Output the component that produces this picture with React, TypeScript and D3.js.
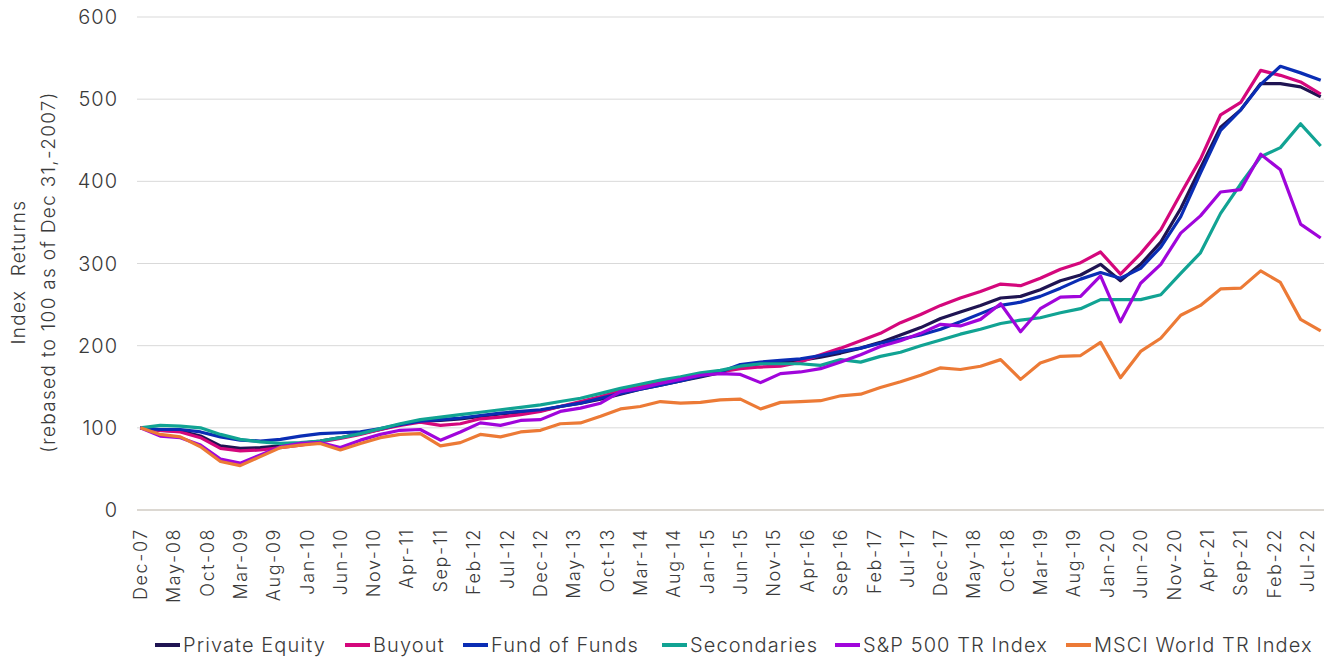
import React, { useEffect, useRef } from "react";
import * as d3 from "d3";

// quarterly observations, Dec-07 .. Sep-22
const quarters = d3.timeMonth.range(new Date(2007, 11, 1), new Date(2022, 8, 2), 3);

const privateEquity = [100, 97, 96, 90, 78, 75, 76, 78, 81, 84, 88, 93, 98, 104, 108, 109, 111, 114, 117, 119, 121, 126, 130, 135, 141, 147, 152, 157, 162, 167, 175, 178, 180, 182, 186, 191, 197, 204, 213, 222, 233, 241, 249, 258, 260, 268, 279, 286, 299, 279, 299, 326, 367, 416, 466, 487, 519, 519, 515, 503];
const buyout = [100, 97, 95, 88, 75, 72, 73, 76, 79, 83, 87, 92, 98, 103, 107, 103, 105, 111, 113, 116, 120, 126, 132, 138, 145, 150, 155, 159, 164, 168, 172, 174, 175, 180, 189, 197, 206, 215, 228, 238, 249, 258, 266, 275, 273, 282, 293, 301, 314, 287, 312, 341, 385, 427, 481, 496, 535, 529, 521, 506];
const fundOfFunds = [100, 98, 98, 95, 89, 85, 84, 86, 90, 93, 94, 95, 99, 104, 108, 110, 112, 115, 118, 120, 122, 126, 130, 136, 142, 147, 152, 157, 163, 168, 177, 180, 182, 184, 188, 193, 197, 203, 208, 213, 220, 229, 239, 249, 253, 260, 270, 281, 289, 282, 294, 320, 357, 410, 462, 487, 518, 540, 532, 523];
const secondaries = [100, 103, 102, 100, 92, 86, 83, 81, 82, 84, 88, 93, 99, 105, 110, 113, 116, 119, 122, 125, 128, 132, 136, 142, 148, 153, 158, 162, 167, 170, 175, 178, 178, 178, 176, 183, 180, 187, 192, 200, 207, 214, 220, 227, 231, 234, 240, 245, 256, 256, 256, 262, 288, 313, 361, 397, 430, 441, 470, 443];
const sp500 = [100, 90, 88, 79, 62, 57, 67, 77, 81, 82, 76, 85, 92, 97, 98, 85, 95, 106, 103, 109, 110, 120, 124, 130, 144, 148, 154, 159, 164, 166, 165, 155, 166, 168, 172, 180, 189, 199, 206, 215, 226, 224, 232, 251, 217, 245, 259, 260, 285, 229, 276, 299, 337, 358, 387, 390, 433, 414, 348, 331];
const msciWorld = [100, 92, 89, 77, 59, 54, 65, 76, 79, 81, 73, 81, 88, 92, 93, 78, 82, 92, 89, 95, 97, 105, 106, 114, 123, 126, 132, 130, 131, 134, 135, 123, 131, 132, 133, 139, 141, 149, 156, 164, 173, 171, 175, 183, 159, 179, 187, 188, 204, 161, 193, 209, 237, 249, 269, 270, 291, 277, 232, 218];

const seriesNames = ["Private Equity", "Buyout", "Fund of Funds", "Secondaries", "S&P 500 TR Index", "MSCI World TR Index"];
const seriesValues = [privateEquity, buyout, fundOfFunds, secondaries, sp500, msciWorld];
const seriesColors = ["#1f1452", "#d4077c", "#0a2db4", "#11a393", "#a005db", "#ec7a36"];

const yTicks = [0, 100, 200, 300, 400, 500, 600];
// x labels every 5 months
const xTickDates = d3.timeMonth.range(new Date(2007, 11, 1), new Date(2022, 6, 2), 5);

const legendX = [155, 345, 463, 662, 835, 1066];

const FONT = "Inter, 'Open Sans', sans-serif";

export default function App() {
  const ref = useRef<SVGSVGElement>(null);

  useEffect(() => {
    const svg = d3.select(ref.current);
    svg.selectAll("*").remove();

    const x = d3.scaleTime()
      .domain([new Date(2007, 10, 16), new Date(2022, 8, 16)])
      .range([137, 1324]);
    const y = d3.scaleLinear().domain([0, 600]).range([510, 17]);

    // gridlines
    svg.append("g")
      .selectAll("line")
      .data(yTicks.filter(d => d > 0))
      .enter()
      .append("line")
      .attr("x1", 137)
      .attr("x2", 1324)
      .attr("y1", d => y(d))
      .attr("y2", d => y(d))
      .attr("stroke", "#d9d9d9")
      .attr("stroke-width", 1);

    svg.append("line")
      .attr("x1", 137)
      .attr("x2", 1324)
      .attr("y1", y(0))
      .attr("y2", y(0))
      .attr("stroke", "#dcd8d2")
      .attr("stroke-width", 2);

    // y labels
    svg.append("g")
      .selectAll("text")
      .data(yTicks)
      .enter()
      .append("text")
      .attr("x", 118)
      .attr("y", d => y(d))
      .attr("text-anchor", "end")
      .attr("dominant-baseline", "central")
      .style("font-family", FONT)
      .style("font-weight", 300)
      .style("font-size", "20px")
      .style("letter-spacing", "1px")
      .style("fill", "#3a3a3a")
      .text(d => d);

    // x labels
    const fmt = d3.timeFormat("%b-%y");
    svg.append("g")
      .selectAll("text")
      .data(xTickDates)
      .enter()
      .append("text")
      .attr("transform", d => "translate(" + x(d) + ",528) rotate(-90)")
      .attr("text-anchor", "end")
      .attr("dominant-baseline", "central")
      .style("font-family", FONT)
      .style("font-weight", 300)
      .style("font-size", "18px")
      .style("letter-spacing", "1.6px")
      .style("fill", "#3a3a3a")
      .text(d => fmt(d));

    // y axis title
    const title = svg.append("text")
      .attr("transform", "translate(0,272) rotate(-90)")
      .attr("text-anchor", "middle")
      .style("font-family", FONT)
      .style("font-weight", 300)
      .style("font-size", "19px")
      .style("letter-spacing", "1.3px")
      .style("fill", "#3a3a3a");
    title.append("tspan").attr("x", 0).attr("y", 25).attr("xml:space", "preserve").text("Index  Returns");
    title.append("tspan").attr("x", 0).attr("y", 55).text("(rebased to 100 as of Dec 31,-2007)");

    // lines
    const line = d3.line<number>()
      .x((d, i) => x(quarters[i]))
      .y(d => y(d));

    svg.append("g")
      .selectAll("path")
      .data(seriesValues)
      .enter()
      .append("path")
      .attr("d", d => line(d))
      .attr("fill", "none")
      .attr("stroke", (d, i) => seriesColors[i])
      .attr("stroke-width", 3.2)
      .attr("stroke-linejoin", "round");

    // legend
    const legend = svg.append("g")
      .selectAll("g")
      .data(seriesNames)
      .enter()
      .append("g")
      .attr("transform", (d, i) => "translate(" + legendX[i] + ",645)");
    legend.append("line")
      .attr("x1", 0)
      .attr("x2", 25)
      .attr("stroke", (d, i) => seriesColors[i])
      .attr("stroke-width", 4);
    legend.append("text")
      .attr("x", 28)
      .attr("dominant-baseline", "central")
      .style("font-family", FONT)
      .style("font-weight", 300)
      .style("font-size", "20px")
      .style("letter-spacing", "1.1px")
      .style("fill", "#3a3a3a")
      .text(d => d);
  }, []);

  return (
    <svg
      ref={ref}
      width={1330}
      height={659}
      style={{ position: "absolute", left: 0, top: 0, background: "#fff" }}
    />
  );
}
